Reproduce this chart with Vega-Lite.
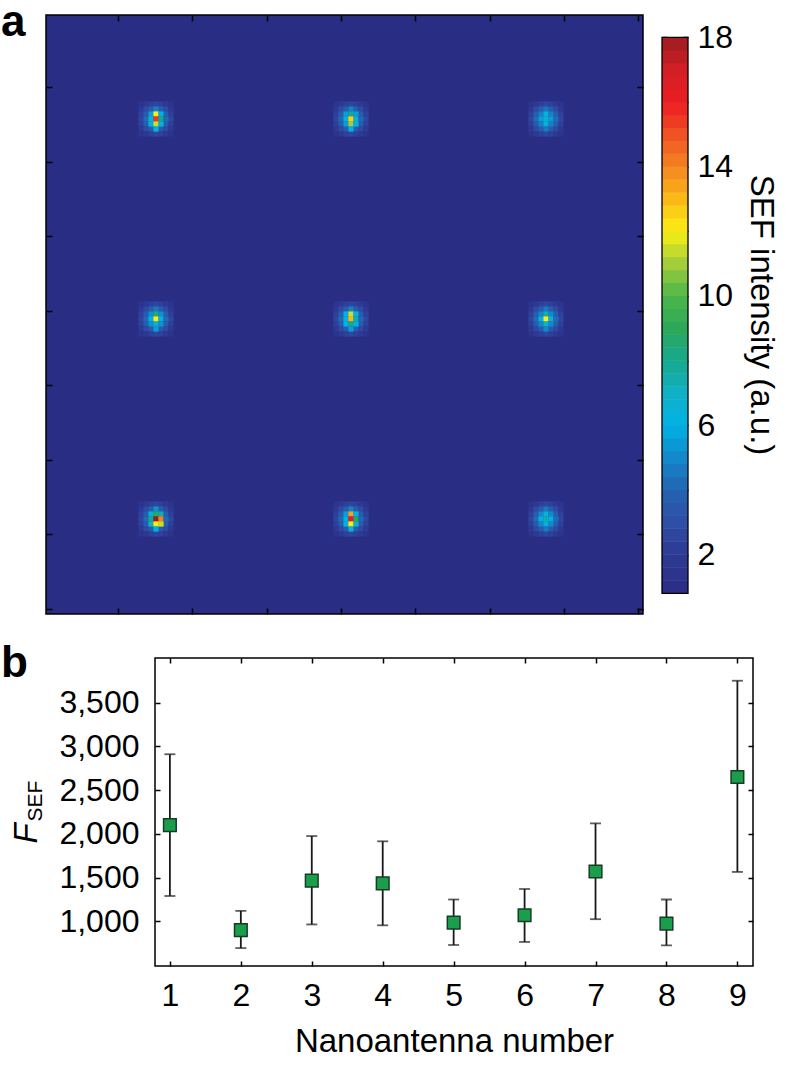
{
"$schema": "https://vega.github.io/schema/vega-lite/v6.json",
"padding": {"left": 0, "top": 0, "right": 0, "bottom": 0},
"config": {
  "font": "Liberation Sans",
  "axis": {"labelColor": "black", "titleColor": "black", "tickColor": "black", "tickWidth": 1.5, "grid": false, "domain": false, "labelFont": "Liberation Sans", "titleFont": "Liberation Sans"},
  "title": {"font": "Liberation Sans", "color": "black"}
},
"datasets": {
"cells": [
{"i":19,"j":102,"v":1.5},{"i":20,"j":102,"v":1.9},{"i":21,"j":102,"v":2.3},{"i":22,"j":102,"v":2.6},{"i":23,"j":102,"v":2.3},{"i":24,"j":102,"v":1.9},{"i":25,"j":102,"v":1.5},
{"i":19,"j":101,"v":1.9},{"i":20,"j":101,"v":2.8},{"i":21,"j":101,"v":3.7},{"i":22,"j":101,"v":4.8},{"i":23,"j":101,"v":3.7},{"i":24,"j":101,"v":2.8},{"i":25,"j":101,"v":1.9},
{"i":19,"j":100,"v":2.3},{"i":20,"j":100,"v":3.7},{"i":21,"j":100,"v":5.5},{"i":22,"j":100,"v":12},{"i":23,"j":100,"v":6},{"i":24,"j":100,"v":3.7},{"i":25,"j":100,"v":2.3},
{"i":19,"j":99,"v":2.6},{"i":20,"j":99,"v":4.2},{"i":21,"j":99,"v":6.5},{"i":22,"j":99,"v":15.5},{"i":23,"j":99,"v":8},{"i":24,"j":99,"v":4.2},{"i":25,"j":99,"v":2.6},
{"i":19,"j":98,"v":2.3},{"i":20,"j":98,"v":3.7},{"i":21,"j":98,"v":6},{"i":22,"j":98,"v":11.5},{"i":23,"j":98,"v":6.5},{"i":24,"j":98,"v":3.7},{"i":25,"j":98,"v":2.3},
{"i":19,"j":97,"v":1.9},{"i":20,"j":97,"v":2.8},{"i":21,"j":97,"v":3.7},{"i":22,"j":97,"v":6.5},{"i":23,"j":97,"v":3.7},{"i":24,"j":97,"v":2.8},{"i":25,"j":97,"v":1.9},
{"i":19,"j":96,"v":1.5},{"i":20,"j":96,"v":1.9},{"i":21,"j":96,"v":2.3},{"i":22,"j":96,"v":2.6},{"i":23,"j":96,"v":2.3},{"i":24,"j":96,"v":1.9},{"i":25,"j":96,"v":1.5},

{"i":58,"j":102,"v":1.5},{"i":59,"j":102,"v":1.9},{"i":60,"j":102,"v":2.3},{"i":61,"j":102,"v":2.6},{"i":62,"j":102,"v":2.3},{"i":63,"j":102,"v":1.9},{"i":64,"j":102,"v":1.5},
{"i":58,"j":101,"v":1.9},{"i":59,"j":101,"v":2.8},{"i":60,"j":101,"v":3.7},{"i":61,"j":101,"v":4.8},{"i":62,"j":101,"v":3.7},{"i":63,"j":101,"v":2.8},{"i":64,"j":101,"v":1.9},
{"i":58,"j":100,"v":2.3},{"i":59,"j":100,"v":3.7},{"i":60,"j":100,"v":5.5},{"i":61,"j":100,"v":8},{"i":62,"j":100,"v":5.5},{"i":63,"j":100,"v":3.7},{"i":64,"j":100,"v":2.3},
{"i":58,"j":99,"v":2.6},{"i":59,"j":99,"v":4.2},{"i":60,"j":99,"v":6.5},{"i":61,"j":99,"v":12.5},{"i":62,"j":99,"v":7},{"i":63,"j":99,"v":4.2},{"i":64,"j":99,"v":2.6},
{"i":58,"j":98,"v":2.3},{"i":59,"j":98,"v":3.7},{"i":60,"j":98,"v":5.5},{"i":61,"j":98,"v":11},{"i":62,"j":98,"v":6},{"i":63,"j":98,"v":3.7},{"i":64,"j":98,"v":2.3},
{"i":58,"j":97,"v":1.9},{"i":59,"j":97,"v":2.8},{"i":60,"j":97,"v":3.7},{"i":61,"j":97,"v":6},{"i":62,"j":97,"v":3.7},{"i":63,"j":97,"v":2.8},{"i":64,"j":97,"v":1.9},
{"i":58,"j":96,"v":1.5},{"i":59,"j":96,"v":1.9},{"i":60,"j":96,"v":2.3},{"i":61,"j":96,"v":2.6},{"i":62,"j":96,"v":2.3},{"i":63,"j":96,"v":1.9},{"i":64,"j":96,"v":1.5},

{"i":97,"j":102,"v":1.5},{"i":98,"j":102,"v":1.9},{"i":99,"j":102,"v":2.3},{"i":100,"j":102,"v":2.6},{"i":101,"j":102,"v":2.3},{"i":102,"j":102,"v":1.9},{"i":103,"j":102,"v":1.5},
{"i":97,"j":101,"v":1.9},{"i":98,"j":101,"v":2.8},{"i":99,"j":101,"v":3.7},{"i":100,"j":101,"v":4.5},{"i":101,"j":101,"v":3.7},{"i":102,"j":101,"v":2.8},{"i":103,"j":101,"v":1.9},
{"i":97,"j":100,"v":2.3},{"i":98,"j":100,"v":3.7},{"i":99,"j":100,"v":4.8},{"i":100,"j":100,"v":6.2},{"i":101,"j":100,"v":4.8},{"i":102,"j":100,"v":3.7},{"i":103,"j":100,"v":2.3},
{"i":97,"j":99,"v":2.6},{"i":98,"j":99,"v":4.2},{"i":99,"j":99,"v":5.5},{"i":100,"j":99,"v":6.8},{"i":101,"j":99,"v":5.5},{"i":102,"j":99,"v":4.2},{"i":103,"j":99,"v":2.6},
{"i":97,"j":98,"v":2.3},{"i":98,"j":98,"v":3.7},{"i":99,"j":98,"v":4.8},{"i":100,"j":98,"v":6.5},{"i":101,"j":98,"v":4.8},{"i":102,"j":98,"v":3.7},{"i":103,"j":98,"v":2.3},
{"i":97,"j":97,"v":1.9},{"i":98,"j":97,"v":2.8},{"i":99,"j":97,"v":3.7},{"i":100,"j":97,"v":4.6},{"i":101,"j":97,"v":3.7},{"i":102,"j":97,"v":2.8},{"i":103,"j":97,"v":1.9},
{"i":97,"j":96,"v":1.5},{"i":98,"j":96,"v":1.9},{"i":99,"j":96,"v":2.3},{"i":100,"j":96,"v":2.6},{"i":101,"j":96,"v":2.3},{"i":102,"j":96,"v":1.9},{"i":103,"j":96,"v":1.5},

{"i":19,"j":62,"v":1.5},{"i":20,"j":62,"v":1.9},{"i":21,"j":62,"v":2.3},{"i":22,"j":62,"v":2.6},{"i":23,"j":62,"v":2.3},{"i":24,"j":62,"v":1.9},{"i":25,"j":62,"v":1.5},
{"i":19,"j":61,"v":1.9},{"i":20,"j":61,"v":2.8},{"i":21,"j":61,"v":3.7},{"i":22,"j":61,"v":4.6},{"i":23,"j":61,"v":3.7},{"i":24,"j":61,"v":2.8},{"i":25,"j":61,"v":1.9},
{"i":19,"j":60,"v":2.3},{"i":20,"j":60,"v":3.7},{"i":21,"j":60,"v":5.2},{"i":22,"j":60,"v":8.5},{"i":23,"j":60,"v":5.2},{"i":24,"j":60,"v":3.7},{"i":25,"j":60,"v":2.3},
{"i":19,"j":59,"v":2.6},{"i":20,"j":59,"v":4.2},{"i":21,"j":59,"v":6},{"i":22,"j":59,"v":12},{"i":23,"j":59,"v":6.5},{"i":24,"j":59,"v":4.2},{"i":25,"j":59,"v":2.6},
{"i":19,"j":58,"v":2.3},{"i":20,"j":58,"v":3.7},{"i":21,"j":58,"v":5.2},{"i":22,"j":58,"v":7},{"i":23,"j":58,"v":5.2},{"i":24,"j":58,"v":3.7},{"i":25,"j":58,"v":2.3},
{"i":19,"j":57,"v":1.9},{"i":20,"j":57,"v":2.8},{"i":21,"j":57,"v":3.7},{"i":22,"j":57,"v":5.5},{"i":23,"j":57,"v":3.7},{"i":24,"j":57,"v":2.8},{"i":25,"j":57,"v":1.9},
{"i":19,"j":56,"v":1.5},{"i":20,"j":56,"v":1.9},{"i":21,"j":56,"v":2.3},{"i":22,"j":56,"v":2.6},{"i":23,"j":56,"v":2.3},{"i":24,"j":56,"v":1.9},{"i":25,"j":56,"v":1.5},

{"i":58,"j":62,"v":1.5},{"i":59,"j":62,"v":1.9},{"i":60,"j":62,"v":2.3},{"i":61,"j":62,"v":2.6},{"i":62,"j":62,"v":2.3},{"i":63,"j":62,"v":1.9},{"i":64,"j":62,"v":1.5},
{"i":58,"j":61,"v":1.9},{"i":59,"j":61,"v":2.8},{"i":60,"j":61,"v":3.7},{"i":61,"j":61,"v":4.8},{"i":62,"j":61,"v":3.7},{"i":63,"j":61,"v":2.8},{"i":64,"j":61,"v":1.9},
{"i":58,"j":60,"v":2.3},{"i":59,"j":60,"v":3.7},{"i":60,"j":60,"v":6},{"i":61,"j":60,"v":11.5},{"i":62,"j":60,"v":6},{"i":63,"j":60,"v":3.7},{"i":64,"j":60,"v":2.3},
{"i":58,"j":59,"v":2.6},{"i":59,"j":59,"v":4.2},{"i":60,"j":59,"v":6.5},{"i":61,"j":59,"v":13},{"i":62,"j":59,"v":7.5},{"i":63,"j":59,"v":4.2},{"i":64,"j":59,"v":2.6},
{"i":58,"j":58,"v":2.3},{"i":59,"j":58,"v":3.7},{"i":60,"j":58,"v":6},{"i":61,"j":58,"v":8},{"i":62,"j":58,"v":6},{"i":63,"j":58,"v":3.7},{"i":64,"j":58,"v":2.3},
{"i":58,"j":57,"v":1.9},{"i":59,"j":57,"v":2.8},{"i":60,"j":57,"v":3.7},{"i":61,"j":57,"v":5.5},{"i":62,"j":57,"v":3.7},{"i":63,"j":57,"v":2.8},{"i":64,"j":57,"v":1.9},
{"i":58,"j":56,"v":1.5},{"i":59,"j":56,"v":1.9},{"i":60,"j":56,"v":2.3},{"i":61,"j":56,"v":2.6},{"i":62,"j":56,"v":2.3},{"i":63,"j":56,"v":1.9},{"i":64,"j":56,"v":1.5},

{"i":97,"j":62,"v":1.5},{"i":98,"j":62,"v":1.9},{"i":99,"j":62,"v":2.3},{"i":100,"j":62,"v":2.6},{"i":101,"j":62,"v":2.3},{"i":102,"j":62,"v":1.9},{"i":103,"j":62,"v":1.5},
{"i":97,"j":61,"v":1.9},{"i":98,"j":61,"v":2.8},{"i":99,"j":61,"v":3.7},{"i":100,"j":61,"v":4.6},{"i":101,"j":61,"v":3.7},{"i":102,"j":61,"v":2.8},{"i":103,"j":61,"v":1.9},
{"i":97,"j":60,"v":2.3},{"i":98,"j":60,"v":3.7},{"i":99,"j":60,"v":5},{"i":100,"j":60,"v":7.5},{"i":101,"j":60,"v":5},{"i":102,"j":60,"v":3.7},{"i":103,"j":60,"v":2.3},
{"i":97,"j":59,"v":2.6},{"i":98,"j":59,"v":4.2},{"i":99,"j":59,"v":6},{"i":100,"j":59,"v":12},{"i":101,"j":59,"v":6.5},{"i":102,"j":59,"v":4.2},{"i":103,"j":59,"v":2.6},
{"i":97,"j":58,"v":2.3},{"i":98,"j":58,"v":3.7},{"i":99,"j":58,"v":5},{"i":100,"j":58,"v":7},{"i":101,"j":58,"v":5},{"i":102,"j":58,"v":3.7},{"i":103,"j":58,"v":2.3},
{"i":97,"j":57,"v":1.9},{"i":98,"j":57,"v":2.8},{"i":99,"j":57,"v":3.7},{"i":100,"j":57,"v":5},{"i":101,"j":57,"v":3.7},{"i":102,"j":57,"v":2.8},{"i":103,"j":57,"v":1.9},
{"i":97,"j":56,"v":1.5},{"i":98,"j":56,"v":1.9},{"i":99,"j":56,"v":2.3},{"i":100,"j":56,"v":2.6},{"i":101,"j":56,"v":2.3},{"i":102,"j":56,"v":1.9},{"i":103,"j":56,"v":1.5},

{"i":19,"j":22,"v":1.5},{"i":20,"j":22,"v":1.9},{"i":21,"j":22,"v":2.3},{"i":22,"j":22,"v":2.6},{"i":23,"j":22,"v":2.3},{"i":24,"j":22,"v":1.9},{"i":25,"j":22,"v":1.5},
{"i":19,"j":21,"v":1.9},{"i":20,"j":21,"v":2.8},{"i":21,"j":21,"v":3.7},{"i":22,"j":21,"v":5.2},{"i":23,"j":21,"v":3.7},{"i":24,"j":21,"v":2.8},{"i":25,"j":21,"v":1.9},
{"i":19,"j":20,"v":2.3},{"i":20,"j":20,"v":3.7},{"i":21,"j":20,"v":6},{"i":22,"j":20,"v":9},{"i":23,"j":20,"v":7.5},{"i":24,"j":20,"v":3.7},{"i":25,"j":20,"v":2.3},
{"i":19,"j":19,"v":2.6},{"i":20,"j":19,"v":4.2},{"i":21,"j":19,"v":8},{"i":22,"j":19,"v":18},{"i":23,"j":19,"v":14},{"i":24,"j":19,"v":4.2},{"i":25,"j":19,"v":2.6},
{"i":19,"j":18,"v":2.3},{"i":20,"j":18,"v":3.7},{"i":21,"j":18,"v":7},{"i":22,"j":18,"v":12},{"i":23,"j":18,"v":11.5},{"i":24,"j":18,"v":3.7},{"i":25,"j":18,"v":2.3},
{"i":19,"j":17,"v":1.9},{"i":20,"j":17,"v":2.8},{"i":21,"j":17,"v":3.7},{"i":22,"j":17,"v":6},{"i":23,"j":17,"v":3.7},{"i":24,"j":17,"v":2.8},{"i":25,"j":17,"v":1.9},
{"i":19,"j":16,"v":1.5},{"i":20,"j":16,"v":1.9},{"i":21,"j":16,"v":2.3},{"i":22,"j":16,"v":2.6},{"i":23,"j":16,"v":2.3},{"i":24,"j":16,"v":1.9},{"i":25,"j":16,"v":1.5},

{"i":58,"j":22,"v":1.5},{"i":59,"j":22,"v":1.9},{"i":60,"j":22,"v":2.3},{"i":61,"j":22,"v":2.6},{"i":62,"j":22,"v":2.3},{"i":63,"j":22,"v":1.9},{"i":64,"j":22,"v":1.5},
{"i":58,"j":21,"v":1.9},{"i":59,"j":21,"v":2.8},{"i":60,"j":21,"v":3.7},{"i":61,"j":21,"v":4.8},{"i":62,"j":21,"v":3.7},{"i":63,"j":21,"v":2.8},{"i":64,"j":21,"v":1.9},
{"i":58,"j":20,"v":2.3},{"i":59,"j":20,"v":3.7},{"i":60,"j":20,"v":5.5},{"i":61,"j":20,"v":13.5},{"i":62,"j":20,"v":6},{"i":63,"j":20,"v":3.7},{"i":64,"j":20,"v":2.3},
{"i":58,"j":19,"v":2.6},{"i":59,"j":19,"v":4.2},{"i":60,"j":19,"v":6.5},{"i":61,"j":19,"v":16.5},{"i":62,"j":19,"v":9},{"i":63,"j":19,"v":4.2},{"i":64,"j":19,"v":2.6},
{"i":58,"j":18,"v":2.3},{"i":59,"j":18,"v":3.7},{"i":60,"j":18,"v":6},{"i":61,"j":18,"v":12},{"i":62,"j":18,"v":7},{"i":63,"j":18,"v":3.7},{"i":64,"j":18,"v":2.3},
{"i":58,"j":17,"v":1.9},{"i":59,"j":17,"v":2.8},{"i":60,"j":17,"v":3.7},{"i":61,"j":17,"v":6.5},{"i":62,"j":17,"v":3.7},{"i":63,"j":17,"v":2.8},{"i":64,"j":17,"v":1.9},
{"i":58,"j":16,"v":1.5},{"i":59,"j":16,"v":1.9},{"i":60,"j":16,"v":2.3},{"i":61,"j":16,"v":2.6},{"i":62,"j":16,"v":2.3},{"i":63,"j":16,"v":1.9},{"i":64,"j":16,"v":1.5},

{"i":97,"j":22,"v":1.5},{"i":98,"j":22,"v":1.9},{"i":99,"j":22,"v":2.3},{"i":100,"j":22,"v":2.6},{"i":101,"j":22,"v":2.3},{"i":102,"j":22,"v":1.9},{"i":103,"j":22,"v":1.5},
{"i":97,"j":21,"v":1.9},{"i":98,"j":21,"v":2.8},{"i":99,"j":21,"v":3.7},{"i":100,"j":21,"v":4.5},{"i":101,"j":21,"v":3.7},{"i":102,"j":21,"v":2.8},{"i":103,"j":21,"v":1.9},
{"i":97,"j":20,"v":2.3},{"i":98,"j":20,"v":3.7},{"i":99,"j":20,"v":5},{"i":100,"j":20,"v":6.5},{"i":101,"j":20,"v":5},{"i":102,"j":20,"v":3.7},{"i":103,"j":20,"v":2.3},
{"i":97,"j":19,"v":2.6},{"i":98,"j":19,"v":4.2},{"i":99,"j":19,"v":6},{"i":100,"j":19,"v":7.5},{"i":101,"j":19,"v":6},{"i":102,"j":19,"v":4.2},{"i":103,"j":19,"v":2.6},
{"i":97,"j":18,"v":2.3},{"i":98,"j":18,"v":3.7},{"i":99,"j":18,"v":5},{"i":100,"j":18,"v":6.5},{"i":101,"j":18,"v":5},{"i":102,"j":18,"v":3.7},{"i":103,"j":18,"v":2.3},
{"i":97,"j":17,"v":1.9},{"i":98,"j":17,"v":2.8},{"i":99,"j":17,"v":3.7},{"i":100,"j":17,"v":4.6},{"i":101,"j":17,"v":3.7},{"i":102,"j":17,"v":2.8},{"i":103,"j":17,"v":1.9},
{"i":97,"j":16,"v":1.5},{"i":98,"j":16,"v":1.9},{"i":99,"j":16,"v":2.3},{"i":100,"j":16,"v":2.6},{"i":101,"j":16,"v":2.3},{"i":102,"j":16,"v":1.9},{"i":103,"j":16,"v":1.5}
],
"bar": [
{"v":1.0},{"v":1.4},{"v":1.8},{"v":2.2},{"v":2.6},{"v":3.0},{"v":3.4},{"v":3.8},{"v":4.2},{"v":4.6},{"v":5.0},{"v":5.4},{"v":5.8},{"v":6.2},{"v":6.6},{"v":7.0},{"v":7.4},{"v":7.8},{"v":8.2},{"v":8.6},{"v":9.0},{"v":9.4},{"v":9.8},{"v":10.2},{"v":10.6},{"v":11.0},{"v":11.4},{"v":11.8},{"v":12.2},{"v":12.6},{"v":13.0},{"v":13.4},{"v":13.8},{"v":14.2},{"v":14.6},{"v":15.0},{"v":15.4},{"v":15.8},{"v":16.2},{"v":16.6},{"v":17.0},{"v":17.4},{"v":17.8}
],
"barframe": [{"lo": 0.8, "hi": 18}],
"sef": [
{"n":1,"f":2100,"lo":1290,"hi":2910},
{"n":2,"f":900,"lo":695,"hi":1120},
{"n":3,"f":1465,"lo":965,"hi":1975},
{"n":4,"f":1435,"lo":955,"hi":1915},
{"n":5,"f":985,"lo":730,"hi":1250},
{"n":6,"f":1070,"lo":765,"hi":1370},
{"n":7,"f":1570,"lo":1025,"hi":2120},
{"n":8,"f":975,"lo":725,"hi":1250},
{"n":9,"f":2650,"lo":1565,"hi":3750}
]
},
"vconcat": [
{
  "hconcat": [
  {
    "width": 597, "height": 599,
    "title": {"text": "a", "anchor": "start", "frame": "group", "fontSize": 44, "fontWeight": "bold", "offset": 0, "baseline": "alphabetic", "dx": -45, "dy": 66},
    "view": {"fill": "#2a2d84", "stroke": "black", "strokeWidth": 1.5},
    "data": {"name": "cells"},
    "layer": [
      {
        "transform": [{"filter": "datum.v < 4"}],
        "mark": {"type": "rect", "width": 5.3, "height": 5.3},
        "encoding": {
          "x": {"field": "i", "type": "quantitative", "scale": {"domain": [0, 119.4], "nice": false, "zero": false},
                "axis": {"orient": "bottom", "values": [14.4, 29.26, 44.12, 58.98, 73.84, 88.7, 103.56, 118.42], "labels": false, "tickSize": -6, "title": null}},
          "y": {"field": "j", "type": "quantitative", "scale": {"domain": [0, 119.8], "nice": false, "zero": false},
                "axis": {"orient": "left", "values": [1.04, 15.94, 30.84, 45.74, 60.64, 75.54, 90.44, 105.34], "labels": false, "tickSize": -6, "title": null}},
          "color": {"field": "v", "type": "quantitative", "legend": null,
                    "scale": {"domain": [0.8,2,3,4,5,6,7,8,9,10,11,12,13,14,15,16,17,18], "range": ["#2a2d84","#2e3a94","#2f4ea5","#2364b1","#1388cb","#00b2e4","#10b1c7","#17a88e","#2ca85a","#4db748","#a3cd3b","#fbef12","#fbb917","#f48421","#ef5223","#ec1c24","#d21f26","#9d1c20"], "interpolate": "rgb", "clamp": true}}
        }
      },
      {
        "transform": [{"filter": "datum.v >= 4"}],
        "mark": {"type": "rect", "width": 5.3, "height": 5.3},
        "encoding": {
          "x": {"field": "i", "type": "quantitative", "scale": {"domain": [0, 119.4], "nice": false, "zero": false},
                "axis": {"orient": "top", "values": [14.4, 29.26, 44.12, 58.98, 73.84, 88.7, 103.56, 118.42], "labels": false, "tickSize": -6, "title": null}},
          "y": {"field": "j", "type": "quantitative", "scale": {"domain": [0, 119.8], "nice": false, "zero": false},
                "axis": {"orient": "right", "values": [1.04, 15.94, 30.84, 45.74, 60.64, 75.54, 90.44, 105.34], "labels": false, "tickSize": -6, "title": null}},
          "color": {"field": "v", "type": "quantitative", "legend": null,
                    "scale": {"domain": [0.8,2,3,4,5,6,7,8,9,10,11,12,13,14,15,16,17,18], "range": ["#2a2d84","#2e3a94","#2f4ea5","#2364b1","#1388cb","#00b2e4","#10b1c7","#17a88e","#2ca85a","#4db748","#a3cd3b","#fbef12","#fbb917","#f48421","#ef5223","#ec1c24","#d21f26","#9d1c20"], "interpolate": "rgb", "clamp": true}}
        }
      }
    ],
    "resolve": {"axis": {"x": "independent", "y": "independent"}}
  },
  {
    "width": 26, "height": 599,
    "view": {"stroke": null},
    "layer": [
      {
        "data": {"name": "bar"},
        "mark": {"type": "rect", "height": 13.4},
        "encoding": {
          "x": {"datum": 0, "type": "quantitative", "scale": {"domain": [0, 1], "nice": false, "zero": false}, "axis": null},
          "x2": {"datum": 1},
          "y": {"field": "v", "type": "quantitative", "scale": {"domain": [0.16, 18.69], "nice": false, "zero": false},
                "axis": {"orient": "right", "values": [2,4,6,8,10,12,14,16,18], "tickSize": -5, "labelExpr": "datum.value % 4 == 2 ? datum.label : ''", "labelFontSize": 32, "labelPadding": 14, "title": "SEF intensity (a.u.)", "titleFontSize": 33, "titleFontWeight": "normal", "titlePadding": 11}},
          "color": {"field": "v", "type": "quantitative", "legend": null,
                    "scale": {"domain": [0.8,2,3,4,5,6,7,8,9,10,11,12,13,14,15,16,17,18], "range": ["#2a2d84","#2e3a94","#2f4ea5","#2364b1","#1388cb","#00b2e4","#10b1c7","#17a88e","#2ca85a","#4db748","#a3cd3b","#fbef12","#fbb917","#f48421","#ef5223","#ec1c24","#d21f26","#9d1c20"], "interpolate": "rgb", "clamp": true}}
        }
      },
      {
        "data": {"name": "barframe"},
        "mark": {"type": "rect", "fillOpacity": 0, "stroke": "black", "strokeWidth": 1.3},
        "encoding": {
          "x": {"datum": 0, "type": "quantitative", "scale": {"domain": [0, 1], "nice": false, "zero": false}, "axis": null},
          "x2": {"datum": 1},
          "y": {"field": "lo", "type": "quantitative", "scale": {"domain": [0.16, 18.69], "nice": false, "zero": false},
                "axis": {"orient": "left", "values": [2,4,6,8,10,12,14,16,18], "tickSize": -5, "labels": false, "title": null}},
          "y2": {"field": "hi"}
        }
      }
    ],
    "resolve": {"axis": {"y": "independent"}}
  }
  ],
  "spacing": 16
},
{
  "hconcat": [
  {
    "width": 109, "height": 10,
    "view": {"stroke": null},
    "data": {"values": []},
    "mark": "point"
  },
  {
  "width": 598, "height": 308,
  "title": {"text": "b", "anchor": "start", "frame": "group", "fontSize": 44, "fontWeight": "bold", "offset": 0, "baseline": "alphabetic", "dx": -154, "dy": 64},
  "view": {"stroke": "black", "strokeWidth": 1.5},
  "data": {"name": "sef"},
  "layer": [
    {
      "mark": {"type": "rule", "color": "#1a1a1a", "strokeWidth": 1.8},
      "encoding": {
        "x": {"field": "n", "type": "quantitative", "scale": {"domain": [0.79, 9.22], "nice": false, "zero": false},
              "axis": {"orient": "bottom", "values": [1,2,3,4,5,6,7,8,9], "tickSize": -5, "labelFontSize": 32, "labelPadding": 19.5, "title": "Nanoantenna number", "titleFontSize": 33, "titleFontWeight": "normal", "titlePadding": 14}},
        "y": {"field": "lo", "type": "quantitative", "scale": {"domain": [490, 4010], "nice": false, "zero": false},
              "axis": {"orient": "left", "values": [1000,1500,2000,2500,3000,3500], "format": ",.0f", "tickSize": -5, "labelFontSize": 32, "labelPadding": 21, "title": "F", "titleFontSize": 33, "titleFontStyle": "italic", "titleFontWeight": "normal", "titleAngle": 270, "titleAlign": "left", "titleBaseline": "alphabetic", "titleX": -118.5, "titleY": 185}},
        "y2": {"field": "hi"}
      }
    },
    {
      "mark": {"type": "tick", "orient": "horizontal", "size": 11, "thickness": 1.8, "color": "#1a1a1a"},
      "encoding": {
        "x": {"field": "n", "type": "quantitative", "scale": {"domain": [0.79, 9.22], "nice": false, "zero": false},
              "axis": {"orient": "top", "values": [1,2,3,4,5,6,7,8,9], "tickSize": -5, "labels": false, "title": null}},
        "y": {"field": "lo", "type": "quantitative", "scale": {"domain": [490, 4010], "nice": false, "zero": false},
              "axis": {"orient": "right", "values": [1000,1500,2000,2500,3000,3500], "tickSize": -5, "labels": false, "title": null}}
      }
    },
    {
      "mark": {"type": "tick", "orient": "horizontal", "size": 11, "thickness": 1.8, "color": "#1a1a1a"},
      "encoding": {
        "x": {"field": "n", "type": "quantitative", "scale": {"domain": [0.79, 9.22], "nice": false, "zero": false}, "axis": null},
        "y": {"field": "hi", "type": "quantitative", "scale": {"domain": [490, 4010], "nice": false, "zero": false},
              "axis": {"orient": "left", "labels": false, "ticks": false, "title": "SEF", "titleFontSize": 21, "titleFontWeight": "normal", "titleAngle": 270, "titleAlign": "left", "titleBaseline": "alphabetic", "titleX": -113.5, "titleY": 163}}
      }
    },
    {
      "mark": {"type": "point", "shape": "square", "filled": true, "size": 160, "fill": "#1b9e4b", "stroke": "#163d24", "strokeWidth": 1.5, "opacity": 1},
      "encoding": {
        "x": {"field": "n", "type": "quantitative", "scale": {"domain": [0.79, 9.22], "nice": false, "zero": false}, "axis": null},
        "y": {"field": "f", "type": "quantitative", "scale": {"domain": [490, 4010], "nice": false, "zero": false}, "axis": null}
      }
    }
  ],
  "resolve": {"axis": {"x": "independent", "y": "independent"}}
  }
  ],
  "spacing": 0,
  "bounds": "flush"
}
],
"spacing": 25
}
